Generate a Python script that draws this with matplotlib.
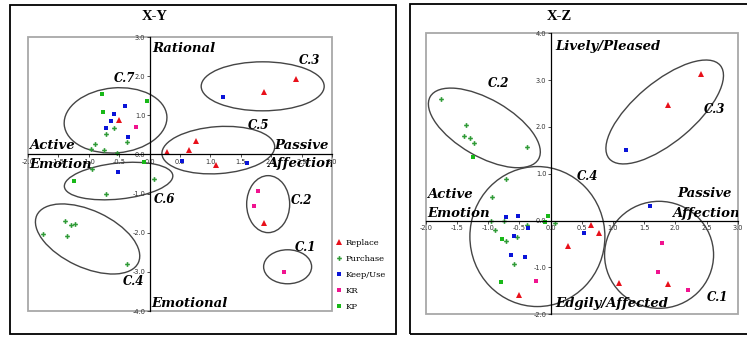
import matplotlib
matplotlib.use('Agg')
import matplotlib.pyplot as plt
import matplotlib.transforms as mtrans
from matplotlib.patches import Ellipse, Rectangle
from matplotlib.ticker import MultipleLocator, FormatStrFormatter

# coordinates of every item on the three factor axes (X, Y, Z)
replace_x = [-0.50, 0.28, 0.65, 0.77, 1.09, 2.41, 1.88, 1.88]
replace_y = [0.87, 0.07, 0.11, 0.35, -0.28, 1.93, 1.60, -1.75]
replace_z = [-1.58, -0.54, -0.09, -0.27, -1.33, 3.13, 2.46, -1.35]

purchase_x = [-1.76, -1.36, -1.39, -1.29, -1.23, -0.37, -0.37, -0.58,
              0.07, -0.53, -0.89, -0.75, -0.71, -0.71, -0.96, -0.94]
purchase_y = [-2.04, -2.09, -1.69, -1.80, -1.78, -2.79, 0.32, 0.68,
              -0.64, 0.04, 0.27, 0.11, 0.51, -1.00, 0.14, -0.38]
purchase_z = [2.60, 2.05, 1.80, 1.77, 1.66, 1.58, -0.10, -0.93,
              -0.04, -0.35, -0.19, 0.00, 0.88, -0.43, -0.01, 0.50]

keep_x = [-0.41, -0.59, -0.64, -0.71, -0.36, 0.53, 1.21, 1.60, -0.52]
keep_y = [1.25, 1.03, 0.86, 0.68, 0.44, -0.17, 1.47, -0.21, -0.45]
keep_z = [-0.77, -0.32, -0.73, 0.08, -0.16, -0.27, 1.51, 0.32, 0.10]

kr_x = [-0.23, 1.78, 1.72, 2.21]
kr_y = [0.71, -0.93, -1.31, -3.00]
kr_z = [-1.28, -0.47, -1.10, -1.49]

kp_x = [-0.79, -0.77, -0.04, -0.09, -1.24]
kp_y = [1.55, 1.08, 1.37, -0.20, -0.68]
kp_z = [-1.30, -0.39, 0.10, -0.02, 1.35]

groups = [
    ('Replace', replace_x, replace_y, replace_z, '^', '#e8101a', 4.0),
    ('Purchase', purchase_x, purchase_y, purchase_z, 'P', '#2e9a35', 3.4),
    ('Keep/Use', keep_x, keep_y, keep_z, 's', '#0a14d8', 3.4),
    ('KR', kr_x, kr_y, kr_z, 's', '#f0138f', 3.4),
    ('KP', kp_x, kp_y, kp_z, 's', '#18b818', 3.4),
]

# cluster rings: label, centre (data), size in px, angle, label position
xy_rings = [('C.7', -0.56, 0.87, 103, 65, 5, -0.41, 1.95),
            ('C.3', 1.86, 1.74, 123, 49, 0, 2.63, 2.39),
            ('C.5', 1.13, 0.11, 113, 47, 4, 1.79, 0.75),
            ('C.6', -0.51, -0.68, 109, 36, 6, 0.24, -1.14),
            ('C.4', -1.02, -2.16, 112, 57, -25, -0.27, -3.24),
            ('C.2', 1.95, -1.27, 43, 57, 0, 2.50, -1.17),
            ('C.1', 2.27, -2.87, 48, 34, 0, 2.56, -2.38)]
xz_rings = [('C.2', -1.06, 1.98, 125, 57, -30, -0.83, 2.92),
            ('C.3', 1.83, 2.32, 145, 60, 40, 2.63, 2.38),
            ('C.4', -0.21, -0.34, 135, 140, 0, 0.60, 0.94),
            ('C.1', 1.74, -0.73, 109, 107, 0, 2.68, -1.64)]

W, H = 747, 338
fig = plt.figure(figsize=(W / 100, H / 100), dpi=100)

# outer panel frames
fig.add_artist(Rectangle((10 / W, 1 - 334 / H), 386 / W, 329 / H, transform=fig.transFigure,
                         fill=False, ec='black', lw=1.3))
fig.add_artist(Rectangle((410 / W, 1 - 334 / H), 350 / W, 330 / H, transform=fig.transFigure,
                         fill=False, ec='black', lw=1.3))

ax1 = fig.add_axes([28 / W, 1 - 311 / H, 304 / W, 274 / H])
ax2 = fig.add_axes([425.7 / W, 1 - 314.3 / H, 312 / W, 281 / H])

lab_font = dict(family='DejaVu Serif', style='italic', weight='bold', color='black')


def setup(ax, ylo, yhi):
    ax.set_xlim(-2, 3)
    ax.set_ylim(ylo, yhi)
    ax.patch.set_alpha(0)
    for s in ['top', 'right']:
        ax.spines[s].set_visible(False)
    for s in ['left', 'bottom']:
        ax.spines[s].set_position(('data', 0))
        ax.spines[s].set_linewidth(0.9)
        ax.spines[s].set_color('black')
    ax.xaxis.set_major_locator(MultipleLocator(0.5))
    ax.yaxis.set_major_locator(MultipleLocator(1.0))
    ax.xaxis.set_major_formatter(FormatStrFormatter('%.1f'))
    ax.yaxis.set_major_formatter(FormatStrFormatter('%.1f'))
    ax.tick_params(labelsize=4.8, colors='#333333', length=2, width=0.6, pad=1)
    ax.add_patch(Rectangle((0, 0), 1, 1, transform=ax.transAxes, fill=False,
                           ec='#a8a8a8', lw=1.3, clip_on=False, zorder=0))


def ring(ax, cx, cy, w, h, ang):
    tr = fig.dpi_scale_trans + mtrans.ScaledTranslation(cx, cy, ax.transData)
    ax.add_patch(Ellipse((0, 0), w / 100, h / 100, angle=ang, transform=tr,
                         fill=False, ec='#454545', lw=1.0))


setup(ax1, -4, 3)
setup(ax2, -2, 4)

for name, gx, gy, gz, mk, col, ms in groups:
    ax1.plot(gx, gy, ls='none', marker=mk, color=col, ms=ms, mew=0, label=name)
    ax2.plot(gx, gz, ls='none', marker=mk, color=col, ms=ms, mew=0)

for ax, rings in [(ax1, xy_rings), (ax2, xz_rings)]:
    for name, cx, cy, w, h, ang, tx, ty in rings:
        ring(ax, cx, cy, w, h, ang)
        ax.text(tx, ty, name, ha='center', va='center', fontsize=8.5, **lab_font)

fs = 9.5
# pole labels, X-Y
ax1.text(0.05, 2.71, 'Rational', ha='left', va='center', fontsize=fs, **lab_font)
ax1.text(0.03, -3.80, 'Emotional', ha='left', va='center', fontsize=fs, **lab_font)
ax1.text(-1.98, 0.24, 'Active', ha='left', va='center', fontsize=fs, **lab_font)
ax1.text(-1.98, -0.25, 'Emotion', ha='left', va='center', fontsize=fs, **lab_font)
ax1.text(2.95, 0.24, 'Passive', ha='right', va='center', fontsize=fs, **lab_font)
ax1.text(1.93, -0.22, 'Affection', ha='left', va='center', fontsize=fs, clip_on=True, **lab_font)

# pole labels, X-Z
ax2.text(0.07, 3.71, 'Lively/Pleased', ha='left', va='center', fontsize=fs, **lab_font)
ax2.text(0.07, -1.76, 'Edgily/Affected', ha='left', va='center', fontsize=fs, **lab_font)
ax2.text(-1.98, 0.55, 'Active', ha='left', va='center', fontsize=fs, **lab_font)
ax2.text(-1.98, 0.16, 'Emotion', ha='left', va='center', fontsize=fs, **lab_font)
ax2.text(2.91, 0.57, 'Passive', ha='right', va='center', fontsize=fs, **lab_font)
ax2.text(1.95, 0.16, 'Affection', ha='left', va='center', fontsize=fs, clip_on=True, **lab_font)

fig.text(155 / W, 1 - 17 / H, 'X-Y', ha='center', va='center', fontsize=10.5,
         family='Liberation Serif', weight='bold')
fig.text(559 / W, 1 - 17 / H, 'X-Z', ha='center', va='center', fontsize=10.5,
         family='Liberation Serif', weight='bold')

h, l = ax1.get_legend_handles_labels()
fig.legend(h, l, loc='upper left', bbox_to_anchor=(336 / W, 1 - 239 / H), frameon=False,
           prop={'family': 'DejaVu Serif', 'size': 6}, handlelength=0.7, handletextpad=0.4,
           labelspacing=0.95, borderpad=0, borderaxespad=0)

fig.savefig('out.png', dpi=100)
